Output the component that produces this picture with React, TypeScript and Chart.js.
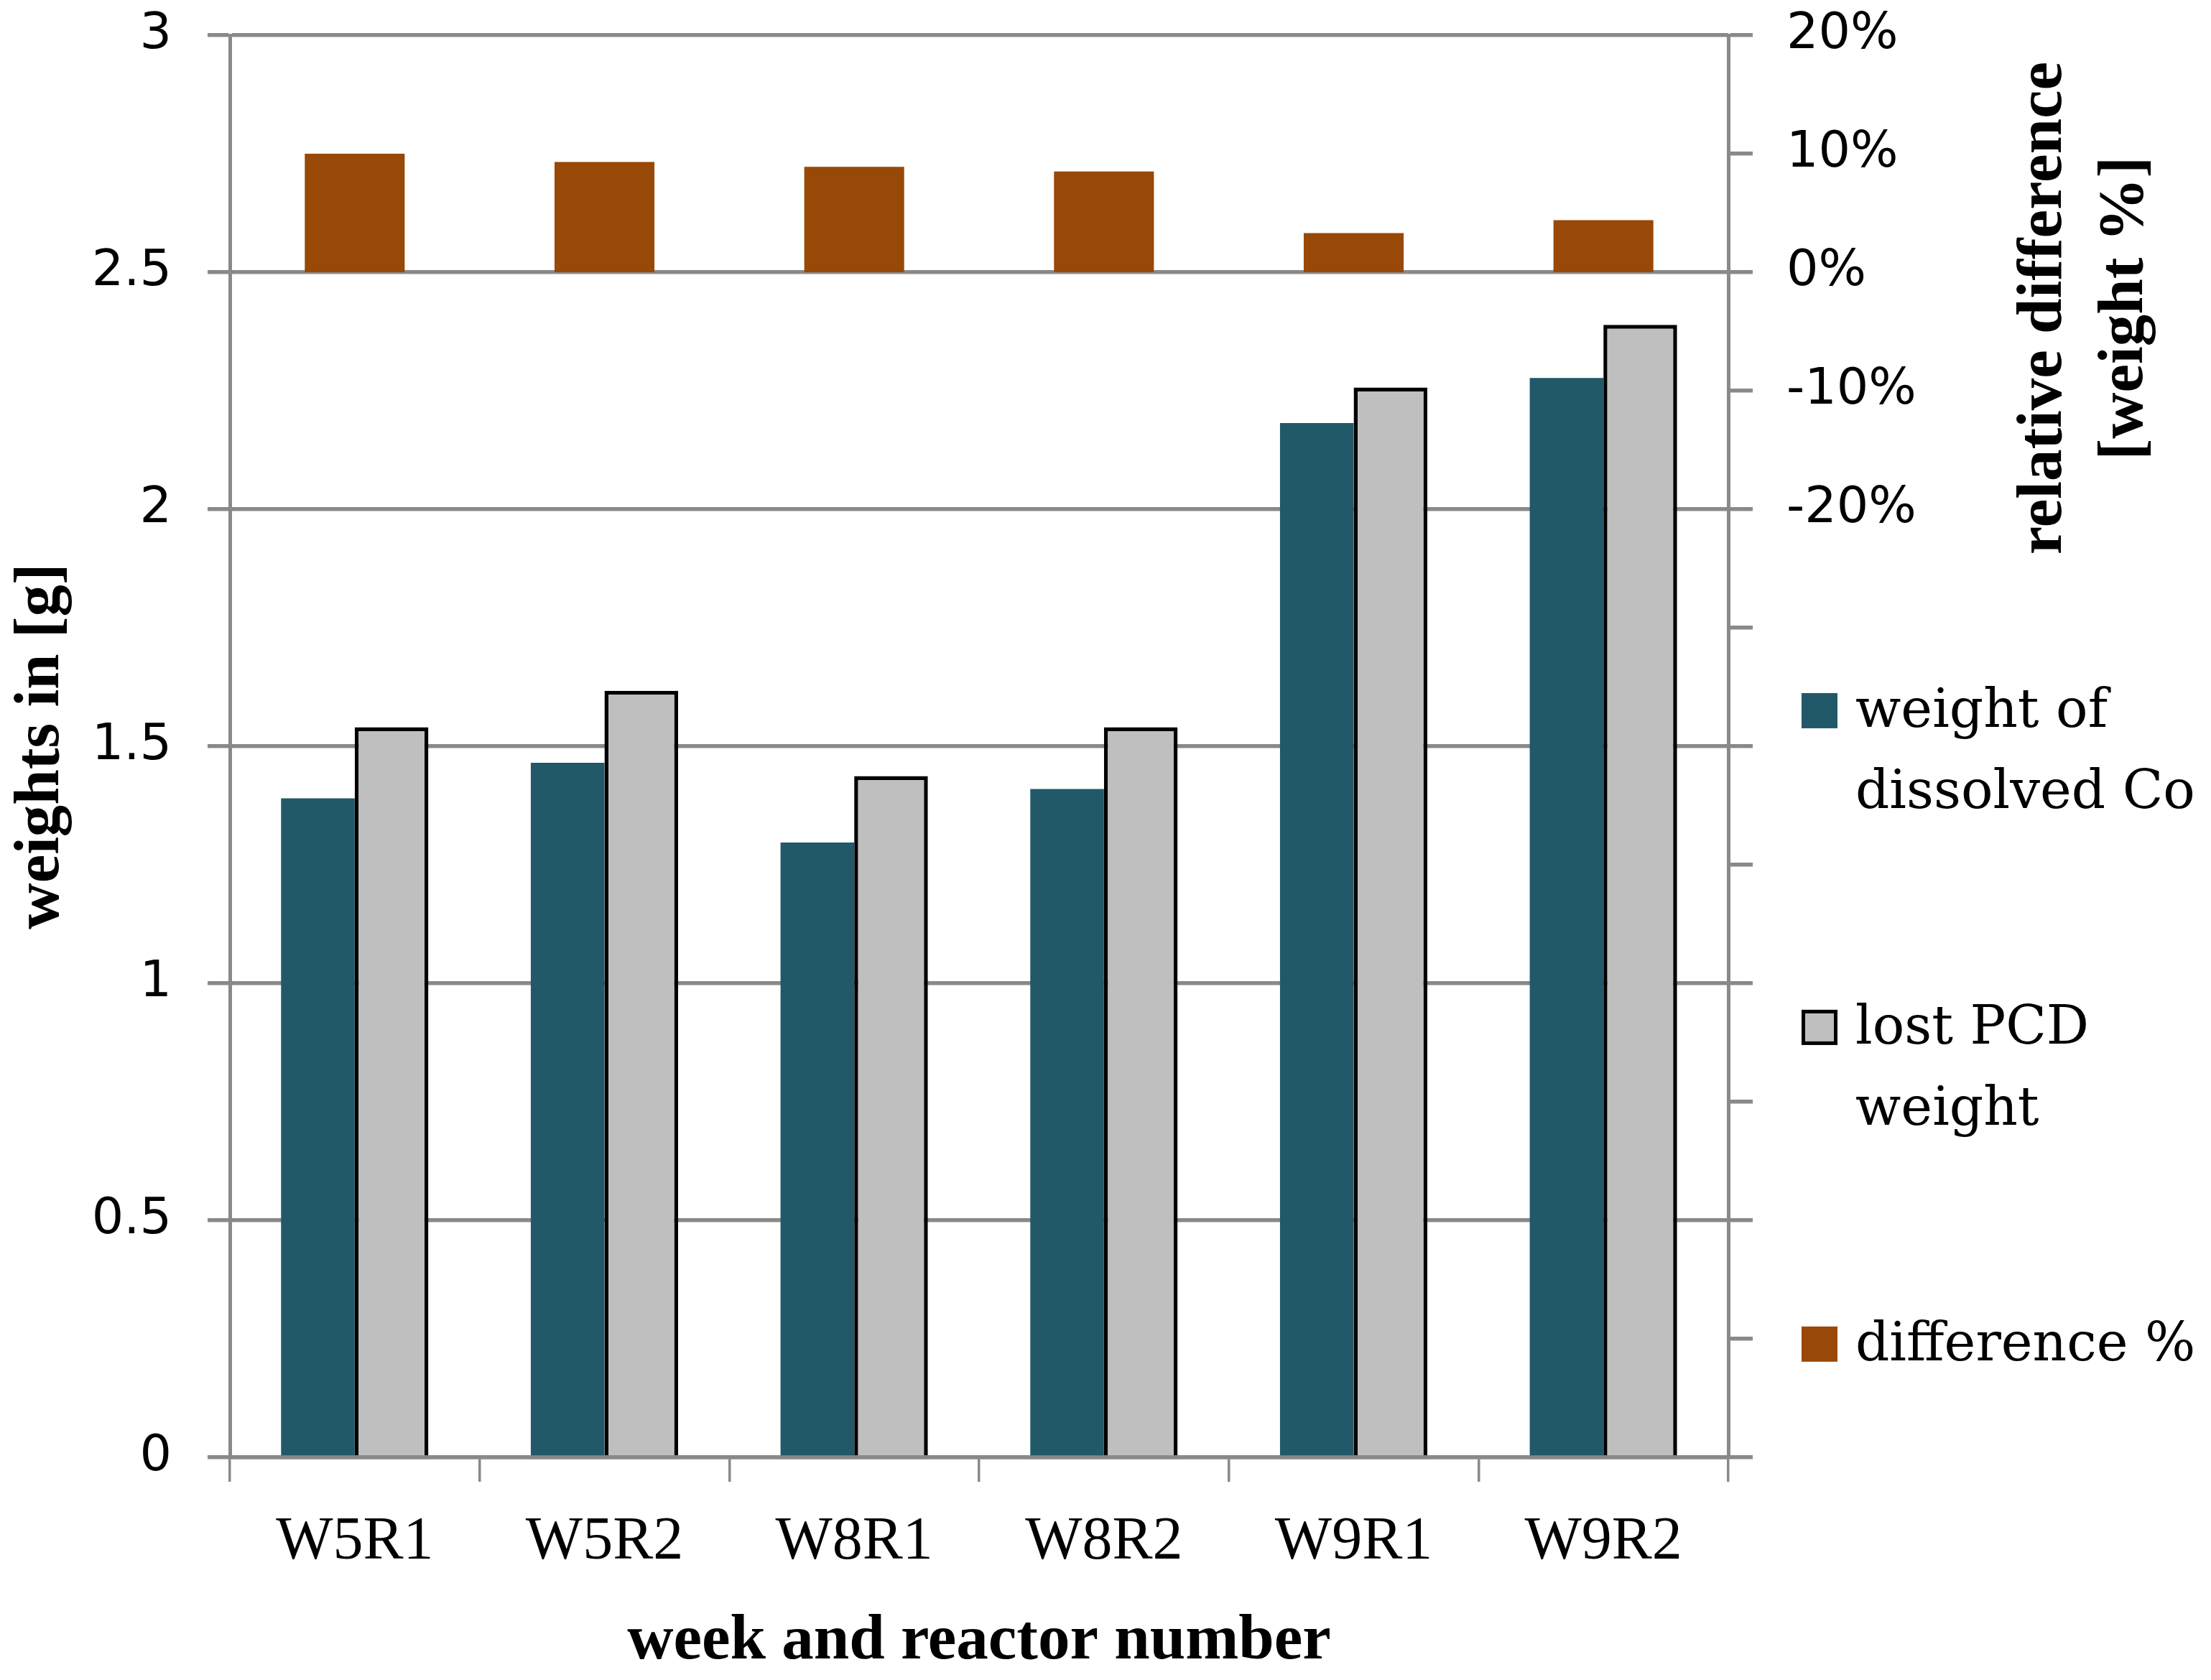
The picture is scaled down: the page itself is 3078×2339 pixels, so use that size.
import React, { useEffect, useRef } from 'react';
import { Chart, registerables } from 'chart.js';

Chart.register(...registerables);

const CATEGORIES = ['W5R1', 'W5R2', 'W8R1', 'W8R2', 'W9R1', 'W9R2'];
const DISSOLVED_CO = [1.39, 1.465, 1.297, 1.41, 2.182, 2.277];
const LOST_PCD = [1.54, 1.617, 1.437, 1.54, 2.257, 2.389];
const DIFFERENCE = [0.1, 0.093, 0.089, 0.085, 0.033, 0.044];

const LEGEND_LINES = [['weight of', 'dissolved Co'], ['lost PCD', 'weight'], ['difference %']];
const X_TITLE = 'week and reactor number';
const Y_TITLE = 'weights in [g]';
const Y2_TITLE = ['relative difference', '[weight %]'];

const Y_MIN = 0;
const Y_MAX = 3;
const Y_STEP = 0.5;
const Y2_MIN = -1.0;
const Y2_MAX = 0.2;
const Y2_STEP = 0.1;
const Y2_LABEL_MIN = -0.2;

const GRID = '#898989';
const C_DISSOLVED = '#215968';
const C_LOST = '#bfbfbf';
const C_DIFF = '#984807';

const W = 3078;
const H = 2339;

const sideLegend = {
  id: 'sideLegend',
  afterDraw(chart: any) {
    const { ctx, chartArea } = chart;
    const h = chartArea.bottom - chartArea.top;
    ctx.save();
    ctx.font = '74px "DejaVu Serif"';
    ctx.textAlign = 'left';
    ctx.textBaseline = 'alphabetic';
    chart.data.datasets.forEach((ds: any, i: number) => {
      const top = chartArea.top + h * (0.4626 + 0.2227 * i);
      const bx = chartArea.right + 102;
      ctx.fillStyle = ds.backgroundColor;
      ctx.fillRect(bx, top, 50, 49);
      if (ds.borderWidth) {
        ctx.lineWidth = 5;
        ctx.strokeStyle = ds.borderColor;
        ctx.strokeRect(bx + 2.5, top + 2.5, 45, 44);
      }
      ctx.fillStyle = '#000';
      (LEGEND_LINES[i] || [ds.label]).forEach((line: string, j: number) => {
        ctx.fillText(line, chartArea.right + 177, top + 47 + j * 113);
      });
    });
    ctx.restore();
  },
};

const rightTitle = {
  id: 'rightTitle',
  afterDraw(chart: any) {
    const { ctx, chartArea } = chart;
    const h = chartArea.bottom - chartArea.top;
    const cy = chartArea.top + h * 0.192;
    ctx.save();
    ctx.font = 'bold 89px "Liberation Serif"';
    ctx.fillStyle = '#000';
    ctx.textAlign = 'center';
    ctx.textBaseline = 'middle';
    Y2_TITLE.forEach((line, j) => {
      ctx.save();
      ctx.translate(chartArea.right + 440 + j * 113, cy);
      ctx.rotate(-Math.PI / 2);
      ctx.fillText(line, 0, 0);
      ctx.restore();
    });
    ctx.restore();
  },
};

const zeroPad = (s: any) => {
  s.paddingTop = 0;
  s.paddingBottom = 0;
};

export default function App() {
  const ref = useRef<HTMLCanvasElement | null>(null);

  useEffect(() => {
    if (!ref.current) return;
    const chart = new Chart(ref.current, {
      type: 'bar',
      data: {
        labels: CATEGORIES,
        datasets: [
          {
            label: LEGEND_LINES[0].join(' '),
            data: DISSOLVED_CO,
            backgroundColor: C_DISSOLVED,
            borderWidth: 0,
            yAxisID: 'y',
            categoryPercentage: 0.59,
            barPercentage: 1,
          },
          {
            label: LEGEND_LINES[1].join(' '),
            data: LOST_PCD,
            backgroundColor: C_LOST,
            borderColor: '#000',
            borderWidth: 5.5,
            yAxisID: 'y',
            categoryPercentage: 0.59,
            barPercentage: 1,
          },
          {
            label: LEGEND_LINES[2].join(' '),
            data: DIFFERENCE,
            backgroundColor: C_DIFF,
            borderWidth: 0,
            yAxisID: 'y2',
            grouped: false,
            categoryPercentage: 0.4,
            barPercentage: 1,
          },
        ] as any,
      },
      options: {
        animation: false,
        responsive: false,
        devicePixelRatio: 1,
        layout: { padding: { top: 49, left: 0, right: 0, bottom: 0 } },
        plugins: {
          legend: { display: false },
          tooltip: { enabled: false },
        },
        scales: {
          x: {
            type: 'category',
            position: 'bottom',
            offset: true,
            grid: {
              offset: true,
              drawOnChartArea: false,
              drawTicks: true,
              tickLength: 34,
              color: GRID,
              lineWidth: 3.5,
            },
            border: { display: true, color: GRID, width: 5.5 },
            ticks: {
              font: { family: 'Liberation Serif', size: 84 },
              color: '#000',
              padding: 35,
              maxRotation: 0,
              autoSkip: false,
            },
            title: {
              display: true,
              text: X_TITLE,
              font: { family: 'Liberation Serif', size: 89, weight: 'bold' },
              color: '#000',
              padding: { top: 0, bottom: 0 },
            },
            afterFit: (s: any) => {
              s.height = 310;
              s.paddingLeft = 0;
              s.paddingRight = 0;
            },
          },
          y: {
            position: 'left',
            min: Y_MIN,
            max: Y_MAX,
            ticks: {
              stepSize: Y_STEP,
              font: { family: 'DejaVu Sans', size: 70 },
              color: '#000',
              padding: 50,
              callback: (v: any) => String(Number(v)),
            },
            grid: { color: GRID, lineWidth: 5.5, tickLength: 31 },
            border: { color: GRID, width: 5 },
            title: {
              display: true,
              text: Y_TITLE,
              font: { family: 'Liberation Serif', size: 89, weight: 'bold' },
              color: '#000',
              padding: { top: 5, bottom: 0 },
            },
            afterFit: (s: any) => {
              s.width = 320;
              zeroPad(s);
            },
          },
          y2: {
            position: 'right',
            min: Y2_MIN,
            max: Y2_MAX,
            ticks: {
              stepSize: Y2_STEP,
              maxTicksLimit: 20,
              font: { family: 'DejaVu Sans', size: 70 },
              color: '#000',
              padding: 47,
              callback: (v: any) => {
                const pct = Math.round(Number(v) * 100);
                return pct >= Math.round(Y2_LABEL_MIN * 100) ? pct + '%' : '';
              },
            },
            grid: { drawOnChartArea: false, color: GRID, lineWidth: 5.5, tickLength: 34 },
            border: { color: GRID, width: 5 },
            afterFit: (s: any) => {
              s.width = 672;
              zeroPad(s);
            },
          },
        },
      } as any,
      plugins: [sideLegend, rightTitle],
    });
    return () => chart.destroy();
  }, []);

  return (
    <div style={{ position: 'fixed', left: 0, top: 0, width: W, height: H, background: '#fff' }}>
      <canvas ref={ref} width={W} height={H} style={{ display: 'block' }} />
    </div>
  );
}
